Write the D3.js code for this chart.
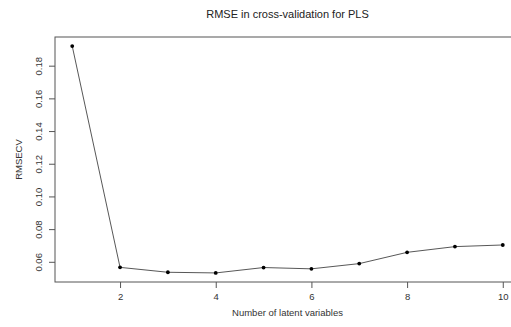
<!DOCTYPE html>
<html>
<head>
<meta charset="utf-8">
<script src="https://cdn.jsdelivr.net/npm/d3@7"></script>
<style>
  html, body { margin: 0; padding: 0; background: #fff; }
  svg { display: block; font-family: "Liberation Sans", Arial, Helvetica, sans-serif; }
</style>
</head>
<body>
<svg id="chart" width="511" height="327"></svg>
<script>
// Number of latent variables and the cross-validated RMSE for each
const components = [1, 2, 3, 4, 5, 6, 7, 8, 9, 10];
const rmsecv = [0.192, 0.0566, 0.0536, 0.0532, 0.0565, 0.0557, 0.0589, 0.0658, 0.0693, 0.0703];
const xTicks = [2, 4, 6, 8, 10];
const yTicks = [0.06, 0.08, 0.10, 0.12, 0.14, 0.16, 0.18];

const svg = d3.select("#chart");
const plot = { left: 55, right: 520, top: 37, bottom: 282 };

// 4% padding on each side of the data range
const xPad = (d3.max(components) - d3.min(components)) * 0.04;
const yPad = (d3.max(rmsecv) - d3.min(rmsecv)) * 0.04;

const x = d3.scaleLinear()
  .domain([d3.min(components) - xPad, d3.max(components) + xPad])
  .range([plot.left, plot.right]);
const y = d3.scaleLinear()
  .domain([d3.min(rmsecv) - yPad, d3.max(rmsecv) + yPad])
  .range([plot.bottom, plot.top]);

const ink = "#333";

// Frame around the plotting region
svg.append("rect")
  .attr("x", plot.left).attr("y", plot.top)
  .attr("width", plot.right - plot.left).attr("height", plot.bottom - plot.top)
  .attr("fill", "none").attr("stroke", "#555").attr("stroke-width", 1);

// Bottom axis
const xAxis = svg.append("g")
  .attr("transform", `translate(0,${plot.bottom})`)
  .call(d3.axisBottom(x).tickValues(xTicks).tickFormat(d3.format("d")).tickSize(6).tickPadding(5));
xAxis.select(".domain").remove();
xAxis.selectAll("line").attr("stroke", "#555");
xAxis.selectAll("text").attr("font-size", 9.5).attr("fill", ink)
  .attr("font-family", "Liberation Sans, Arial, sans-serif");

// Left axis, labels turned parallel to the axis
const yAxis = svg.append("g")
  .attr("transform", `translate(${plot.left},0)`)
  .call(d3.axisLeft(y).tickValues(yTicks).tickFormat(d3.format(".2f")).tickSize(6));
yAxis.select(".domain").remove();
yAxis.selectAll("line").attr("stroke", "#555");
yAxis.selectAll("text")
  .attr("font-size", 9.5).attr("fill", ink)
  .attr("font-family", "Liberation Sans, Arial, sans-serif")
  .attr("x", null).attr("dy", null)
  .attr("text-anchor", "middle")
  .attr("transform", "translate(-13,0) rotate(-90)");

// RMSECV curve
svg.append("path")
  .datum(components.map((c, i) => [c, rmsecv[i]]))
  .attr("fill", "none")
  .attr("stroke", "#444")
  .attr("stroke-width", 0.9)
  .attr("d", d3.line().x(d => x(d[0])).y(d => y(d[1])));

svg.selectAll("circle.pt")
  .data(components.map((c, i) => [c, rmsecv[i]]))
  .join("circle")
  .attr("class", "pt")
  .attr("cx", d => x(d[0]))
  .attr("cy", d => y(d[1]))
  .attr("r", 1.9)
  .attr("fill", "#000");

// Titles
svg.append("text")
  .attr("x", (plot.left + plot.right) / 2).attr("y", 18)
  .attr("text-anchor", "middle").attr("font-size", 11).attr("fill", "#222")
  .text("RMSE in cross-validation for PLS");

svg.append("text")
  .attr("x", (plot.left + plot.right) / 2).attr("y", 316)
  .attr("text-anchor", "middle").attr("font-size", 9.5).attr("fill", ink)
  .text("Number of latent variables");

svg.append("text")
  .attr("transform", `translate(22,${(plot.top + plot.bottom) / 2}) rotate(-90)`)
  .attr("text-anchor", "middle").attr("font-size", 9.5).attr("fill", ink)
  .text("RMSECV");
</script>
</body>
</html>
